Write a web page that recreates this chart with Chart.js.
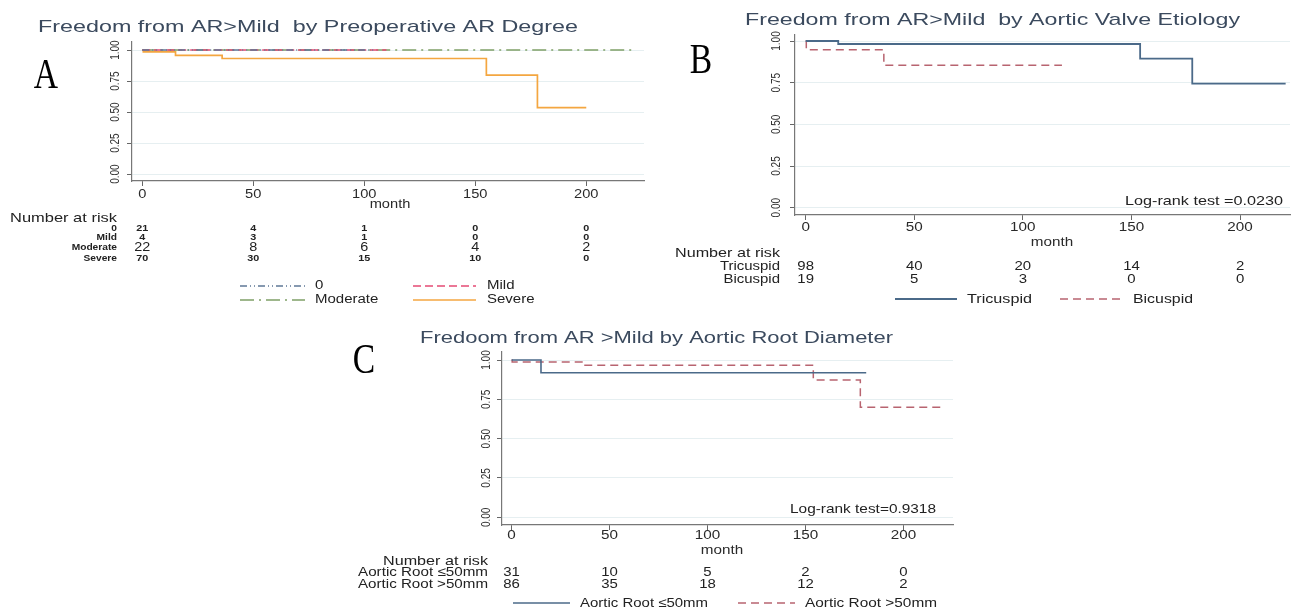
<!DOCTYPE html>
<html>
<head>
<meta charset="utf-8">
<script src="https://cdn.jsdelivr.net/npm/chart.js@4.4.0/dist/chart.umd.min.js"></script>
<style>
  body { margin: 0; background: #fff; width: 1291px; height: 609px; position: relative; overflow: hidden; }
  canvas { position: absolute; }
</style>
</head>
<body>
<canvas id="chartA" width="660" height="310" style="left:0;top:0"></canvas>
<canvas id="chartB" width="631" height="310" style="left:660px;top:0"></canvas>
<canvas id="chartC" width="620" height="289" style="left:340px;top:320px"></canvas>
<script>
// ---- data ----
const monthTicks = [0, 50, 100, 150, 200];
const survTicks = [0, 0.25, 0.5, 0.75, 1];
const survTickLabels = ['0.00', '0.25', '0.50', '0.75', '1.00'];

// A: preoperative AR degree
const groupsA = ['0', 'Mild', 'Moderate', 'Severe'];
const timeNone = [0, 105];
const survNone = [1, 1];
const timeMild = [0, 110];
const survMild = [1, 1];
const timeModerate = [0, 221];
const survModerate = [1, 1];
const timeSevere = [0, 0.5, 15, 36, 155, 178, 200];
const survSevere = [1, 0.986, 0.957, 0.932, 0.798, 0.535, 0.535];
const riskNone = [21, 4, 1, 0, 0];
const riskMild = [4, 3, 1, 0, 0];
const riskModerate = [22, 8, 6, 4, 2];
const riskSevere = [70, 30, 15, 10, 0];

// B: aortic valve etiology
const groupsB = ['Tricuspid', 'Bicuspid'];
const timeTri = [0, 15, 154, 178, 221];
const survTri = [1, 0.982, 0.894, 0.744, 0.744];
const timeBi = [0, 0.3, 36, 118];
const survBi = [1, 0.947, 0.854, 0.854];
const riskTri = [98, 40, 20, 14, 2];
const riskBi = [19, 5, 3, 0, 0];
const logRankB = 'Log-rank test =0.0230';

// C: aortic root diameter
const groupsC = ['Aortic Root \u226450mm', 'Aortic Root >50mm'];
const timeSmall = [0, 15, 181];
const survSmall = [1, 0.919, 0.919];
const timeLarge = [0, 0.3, 37, 154, 178, 219];
const survLarge = [1, 0.988, 0.966, 0.873, 0.699, 0.699];
const riskSmall = [31, 10, 5, 2, 0];
const riskLarge = [86, 35, 18, 12, 2];
const logRankC = 'Log-rank test=0.9318';

const FONT = '"Liberation Sans", Arial, sans-serif';
const titleColor = '#3b4a5e';
const panelExtras = {};

function pts(t, s) {
  return t.map((v, i) => ({ x: v, y: s[i] }));
}

function txt(ctx, s, x, y, o) {
  ctx.save();
  ctx.font = (o.weight || 'normal') + ' ' + o.size + 'px ' + (o.family || FONT);
  ctx.fillStyle = o.color || '#222';
  ctx.textBaseline = 'middle';
  ctx.textAlign = o.align || 'center';
  ctx.translate(x, y);
  if (o.rot) ctx.rotate(o.rot);
  const w = ctx.measureText(s).width;
  const sx = o.w ? o.w / w : (o.sx || 1);
  ctx.scale(sx, 1);
  ctx.fillText(s, 0, 0);
  ctx.restore();
}

function legendLine(ctx, ds, x1, x2, y) {
  ctx.save();
  ctx.strokeStyle = ds.borderColor;
  ctx.lineWidth = ds.borderWidth;
  ctx.setLineDash(ds.borderDash || []);
  ctx.beginPath();
  ctx.moveTo(x1, y);
  ctx.lineTo(x2, y);
  ctx.stroke();
  ctx.restore();
}

// extras drawn in page coordinates
const extrasPlugin = {
  id: 'extras',
  afterDraw(chart) {
    const o = panelExtras[chart.canvas.id];
    const ctx = chart.ctx;
    const xs = chart.scales.x, ys = chart.scales.y;
    ctx.save();
    ctx.translate(-o.ox, -o.oy);
    const px = v => xs.getPixelForValue(v) + o.ox;
    const py = v => ys.getPixelForValue(v) + o.oy;

    txt(ctx, o.title, o.titleX, o.titleY, { size: 17, w: o.titleW, align: 'left', color: titleColor });
    txt(ctx, o.letter, o.letterX, o.letterY, { size: 42, sx: 0.8, family: '"Liberation Serif", serif', color: '#000' });

    survTicks.forEach((v, i) => {
      txt(ctx, survTickLabels[i], o.yLabX, py(v), { size: 13.5, sx: 0.74, rot: -Math.PI / 2, color: '#333' });
    });
    monthTicks.forEach(v => {
      txt(ctx, String(v), px(v), o.xLabY, { size: o.fs, sx: 1.22, color: '#2a2a2a' });
    });
    txt(ctx, 'month', o.monthX, o.monthY, { size: o.fs, sx: 1.22, color: '#2a2a2a' });

    o.draw(ctx, px, chart.data.datasets);
    ctx.restore();
  }
};

function kmChart(id, datasets, xr, yr, pad, extras) {
  panelExtras[id] = extras;
  return new Chart(document.getElementById(id), {
    type: 'line',
    data: { datasets },
    options: {
      responsive: false,
      animation: false,
      layout: { padding: pad },
      elements: { point: { radius: 0 } },
      plugins: { legend: { display: false }, tooltip: { enabled: false } },
      scales: {
        x: {
          type: 'linear', min: xr[0], max: xr[1],
          afterBuildTicks: s => { s.ticks = monthTicks.map(v => ({ value: v })); },
          afterFit: s => { s.height = 6; s.paddingLeft = 0; s.paddingRight = 0; },
          ticks: { display: false },
          grid: { drawOnChartArea: false, tickLength: 5, tickColor: '#666' },
          border: { color: '#777', width: 1.2 }
        },
        y: {
          type: 'linear', min: yr[0], max: yr[1],
          afterBuildTicks: s => { s.ticks = survTicks.map(v => ({ value: v })); },
          afterFit: s => { s.width = 6; s.paddingTop = 0; s.paddingBottom = 0; },
          ticks: { display: false },
          grid: { color: '#e6eff1', tickLength: 5, tickColor: '#666' },
          border: { color: '#777', width: 1.2 }
        }
      }
    },
    plugins: [extrasPlugin]
  });
}

// ---- panel A ----
kmChart('chartA', [
  { data: pts(timeNone, survNone), borderColor: '#5f7896', borderWidth: 1.4, borderDash: [7, 3, 1, 3, 1, 3], stepped: 'before' },
  { data: pts(timeMild, survMild), borderColor: '#e54b74', borderWidth: 1.4, borderDash: [8, 4], stepped: 'before' },
  { data: pts(timeModerate, survModerate), borderColor: '#7fa067', borderWidth: 1.4, borderDash: [14, 5, 2, 5], stepped: 'before' },
  { data: pts(timeSevere, survSevere), borderColor: '#f4a640', borderWidth: 1.7, stepped: 'before' }
], [-4.6, 226], [-0.056, 1.065], { left: 126, top: 42, right: 16, bottom: 123 }, {
  ox: 0, oy: 0,
  title: 'Freedom from AR>Mild  by Preoperative AR Degree', titleX: 38, titleY: 27, titleW: 540,
  letter: 'A', letterX: 46, letterY: 77,
  yLabX: 115, xLabY: 195, monthX: 390, monthY: 205, fs: 12,
  draw(ctx, px, ds) {
    txt(ctx, 'Number at risk', 10, 218, { size: 13, w: 107, align: 'left' });
    const rows = [riskNone, riskMild, riskModerate, riskSevere];
    const rowY = [229, 238, 248, 259];
    groupsA.forEach((g, i) => {
      txt(ctx, g, 117, rowY[i], { size: 8.5, sx: 1.2, weight: 'bold', align: 'right' });
      rows[i].forEach((n, j) => {
        const big = g === 'Moderate';
        txt(ctx, String(n), px(monthTicks[j]), rowY[i], { size: big ? 12 : 9, sx: 1.2, weight: big ? 'normal' : 'bold' });
      });
    });
    legendLine(ctx, ds[0], 240, 305, 286);
    txt(ctx, groupsA[0], 315, 286, { size: 12.5, sx: 1.2, align: 'left' });
    legendLine(ctx, ds[1], 413, 476, 286);
    txt(ctx, groupsA[1], 487, 286, { size: 12.5, sx: 1.2, align: 'left' });
    legendLine(ctx, ds[2], 240, 305, 300);
    txt(ctx, groupsA[2], 315, 300, { size: 12.5, sx: 1.2, align: 'left' });
    legendLine(ctx, ds[3], 413, 476, 300);
    txt(ctx, groupsA[3], 487, 300, { size: 12.5, sx: 1.2, align: 'left' });
  }
});

// ---- panel B ----
kmChart('chartB', [
  { data: pts(timeTri, survTri), borderColor: '#4b6a89', borderWidth: 1.8, stepped: 'before' },
  { data: pts(timeBi, survBi), borderColor: '#b86470', borderWidth: 1.5, borderDash: [8, 5], stepped: 'before' }
], [-4.9, 223], [-0.044, 1.036], { left: 129, top: 35, right: 1, bottom: 89 }, {
  ox: 660, oy: 0,
  title: 'Freedom from AR>Mild  by Aortic Valve Etiology', titleX: 745, titleY: 20, titleW: 495,
  letter: 'B', letterX: 701, letterY: 62,
  yLabX: 776, xLabY: 228, monthX: 1052, monthY: 243, fs: 12.5,
  draw(ctx, px, ds) {
    txt(ctx, logRankB, 1283, 201, { size: 13, w: 158, align: 'right' });
    txt(ctx, 'Number at risk', 780, 253, { size: 13, w: 105, align: 'right' });
    const rows = [riskTri, riskBi];
    const rowY = [266, 279];
    groupsB.forEach((g, i) => {
      txt(ctx, g, 780, rowY[i], { size: 13, sx: 1.15, align: 'right' });
      rows[i].forEach((n, j) => txt(ctx, String(n), px(monthTicks[j]), rowY[i], { size: 13, sx: 1.15 }));
    });
    legendLine(ctx, ds[0], 895, 957, 299);
    txt(ctx, groupsB[0], 967, 299, { size: 13, w: 65, align: 'left' });
    legendLine(ctx, ds[1], 1060, 1122, 299);
    txt(ctx, groupsB[1], 1133, 299, { size: 13, w: 60, align: 'left' });
  }
});

// ---- panel C ----
kmChart('chartC', [
  { data: pts(timeSmall, survSmall), borderColor: '#4b6a89', borderWidth: 1.6, stepped: 'before' },
  { data: pts(timeLarge, survLarge), borderColor: '#b86470', borderWidth: 1.5, borderDash: [8, 5], stepped: 'before' }
], [-4.9, 225.3], [-0.049, 1.051], { left: 156, top: 32, right: 7, bottom: 78 }, {
  ox: 340, oy: 320,
  title: 'Fredoom from AR >Mild by Aortic Root Diameter', titleX: 420, titleY: 338, titleW: 473,
  letter: 'C', letterX: 364, letterY: 362,
  yLabX: 486, xLabY: 536, monthX: 722, monthY: 551, fs: 12.5,
  draw(ctx, px, ds) {
    txt(ctx, logRankC, 790, 509, { size: 13, w: 146, align: 'left' });
    txt(ctx, 'Number at risk', 488, 561, { size: 13, w: 105, align: 'right' });
    const rows = [riskSmall, riskLarge];
    const rowY = [572.5, 584];
    groupsC.forEach((g, i) => {
      txt(ctx, g, 488, rowY[i], { size: 13, w: 130, align: 'right' });
      rows[i].forEach((n, j) => txt(ctx, String(n), px(monthTicks[j]), rowY[i], { size: 13, sx: 1.15 }));
    });
    legendLine(ctx, ds[0], 513, 570, 603);
    txt(ctx, groupsC[0], 580, 603, { size: 13, w: 128, align: 'left' });
    legendLine(ctx, ds[1], 738, 795, 603);
    txt(ctx, groupsC[1], 805, 603, { size: 13, w: 132, align: 'left' });
  }
});
</script>
</body>
</html>
